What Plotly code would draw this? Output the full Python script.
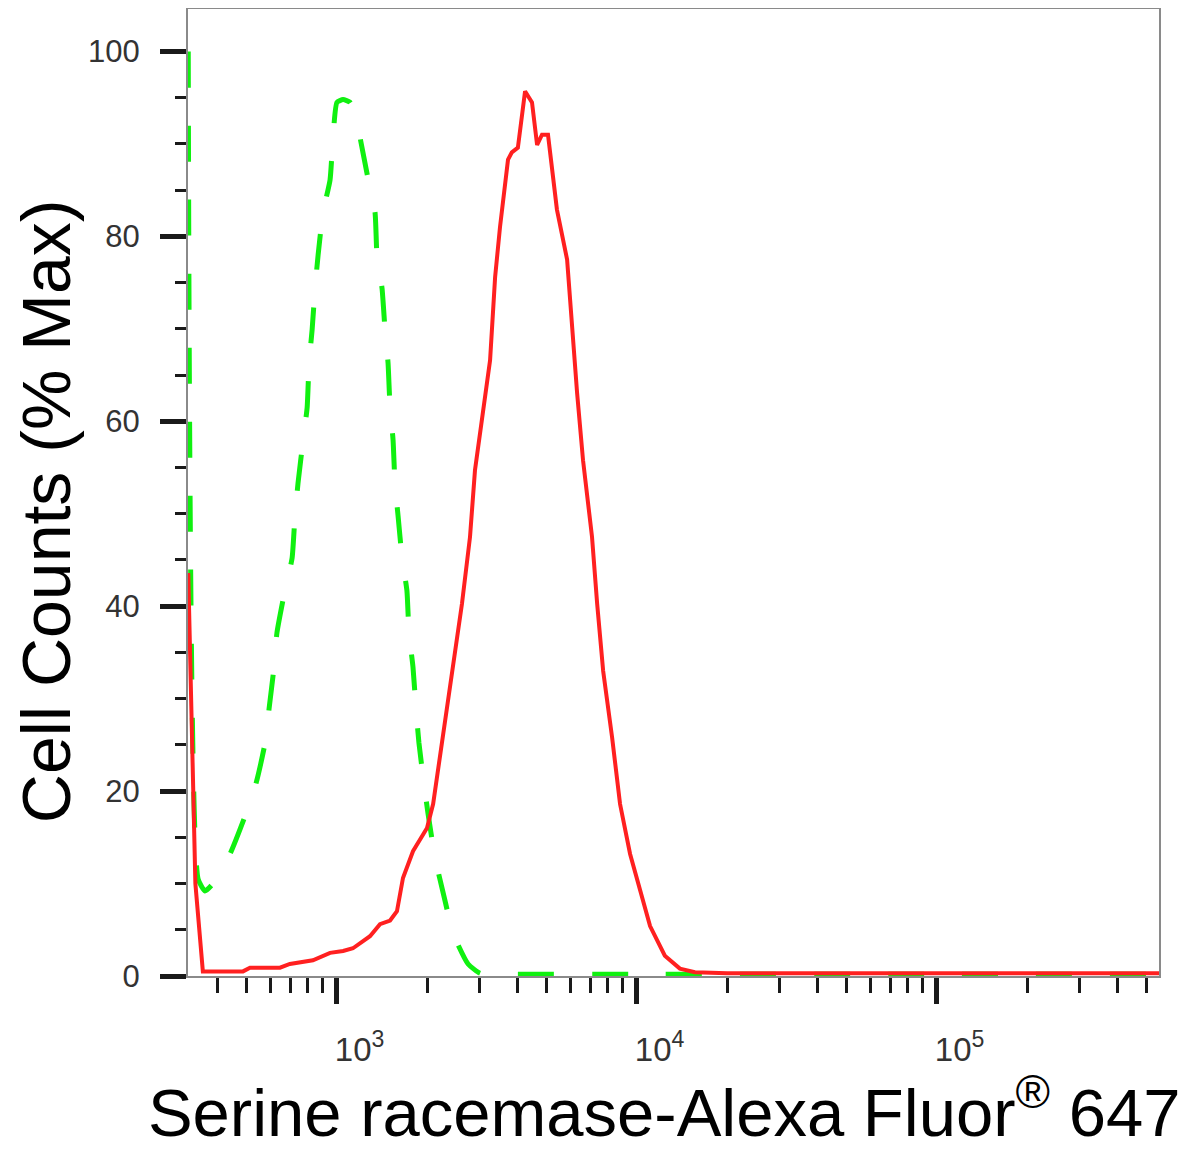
import plotly.graph_objects as go

# ---- data (intensity, % of max) ----
red_x = [320, 338, 358, 487, 514, 647, 698, 833, 950, 1050, 1133, 1291, 1394, 1506, 1588,
         1663, 1796, 2000, 2096, 2260, 2421, 2616, 2782, 2890, 3245, 3373, 3502, 3724, 3835,
         4017, 4245, 4477, 4656, 4834, 5062, 5260, 5421, 5861, 6083, 6327, 6623, 7096, 7380,
         7730, 8280, 8800, 9505, 10250, 11080, 12410, 13930, 15630, 20000, 50000, 100000,
         200000, 560000]
red_y = [43.6, 10.0, 0.5, 0.5, 0.9, 0.9, 1.3, 1.7, 2.5, 2.7, 3.0, 4.3, 5.6, 6.0, 7.0,
         10.6, 13.5, 16.0, 18.6, 25.8, 33.0, 40.3, 47.5, 54.7, 66.6, 75.6, 81.0, 88.3, 89.1,
         89.6, 95.7, 94.5, 89.9, 91.0, 91.0, 86.5, 82.9, 77.5, 70.2, 63.1, 55.8, 47.5, 40.3,
         33.0, 25.8, 18.6, 13.2, 9.5, 5.4, 2.2, 0.8, 0.4, 0.3, 0.3, 0.3, 0.3, 0.3]

green_x = [320, 345, 364, 387, 441, 499, 538, 577, 595, 618, 632, 672, 710, 726, 743, 773,
           797, 809, 828, 847, 867, 900, 950, 972, 1002, 1050, 1108, 1151, 1196, 1271, 1342,
           1362, 1416, 1449, 1483, 1506, 1541, 1564, 1601, 1652, 1714, 1742, 1796, 1838, 1880,
           1954, 2015, 2127, 2298, 2443, 2741, 3006, 3500, 10000, 100000, 560000]
green_y = [100.0, 10.5, 9.2, 10.0, 13.2, 17.6, 20.8, 25.2, 28.9, 33.4, 37.1, 41.7, 45.2, 49.8,
           53.3, 58.0, 61.5, 66.3, 69.9, 74.4, 78.0, 82.6, 86.1, 90.7, 94.5, 94.8, 94.5, 93.2,
           90.7, 86.3, 82.6, 78.0, 74.4, 69.9, 66.3, 61.5, 58.0, 53.3, 49.8, 45.2, 41.7, 37.1,
           33.4, 28.9, 25.2, 20.8, 17.6, 12.8, 8.1, 4.6, 1.3, 0.3, 0.2, 0.2, 0.2, 0.2]

y_major = [0, 20, 40, 60, 80, 100]
y_minor = [5, 10, 15, 25, 30, 35, 45, 50, 55, 65, 70, 75, 85, 90, 95]
x_major = [1e3, 1e4, 1e5]
x_exponents = ["3", "4", "5"]
x_minor = [400, 500, 600, 700, 800, 900,
           2e3, 3e3, 4e3, 5e3, 6e3, 7e3, 8e3, 9e3,
           2e4, 3e4, 4e4, 5e4, 6e4, 7e4, 8e4, 9e4,
           2e5, 3e5, 4e5, 5e5]

FONT = "Liberation Sans, Arial, sans-serif"
PAD = "&nbsp;" * 5
x_major_text = [PAD + "10<sup>" + e + "</sup>" for e in x_exponents]

fig = go.Figure()
fig.add_trace(go.Scatter(x=green_x, y=green_y, mode="lines",
                         line=dict(color="#10f010", width=5, dash="36px,38px", shape="spline",
                                   smoothing=0.5),
                         showlegend=False))
fig.add_trace(go.Scatter(x=red_x, y=red_y, mode="lines",
                         line=dict(color="#ff2020", width=4),
                         showlegend=False))

fig.update_layout(
    width=1190, height=1142,
    margin=dict(l=180, r=39, t=1, b=174),
    paper_bgcolor="white", plot_bgcolor="white",
    font=dict(family=FONT, color="#2a2a2a"),
)

fig.update_xaxes(
    type="log", range=[2.5043, 5.741],
    showgrid=False, zeroline=False,
    showline=True, linecolor="#8a8a8a", linewidth=2, mirror=True,
    tickmode="array", tickvals=x_major, ticktext=x_major_text,
    ticks="outside", ticklen=26, tickwidth=5, tickcolor="#1a1a1a",
    tickfont=dict(size=33, color="#333333", family=FONT),
    ticklabelstandoff=17,
    minor=dict(tickmode="array", tickvals=x_minor, ticks="outside",
               ticklen=15, tickwidth=3, tickcolor="#1a1a1a", showgrid=False),
    title=dict(text="Serine racemase-Alexa Fluor<sup>®</sup> 647&nbsp;",
               font=dict(size=67, color="black", family=FONT), standoff=34),
    automargin=False,
)
fig.update_yaxes(
    range=[0, 104.6],
    showgrid=False, zeroline=False,
    showline=True, linecolor="#8a8a8a", linewidth=2, mirror=True,
    tickmode="array", tickvals=y_major, ticktext=[str(v) for v in y_major],
    ticks="outside", ticklen=26, tickwidth=5, tickcolor="#1a1a1a",
    tickfont=dict(size=31, color="#333333", family=FONT),
    ticklabelstandoff=14,
    minor=dict(tickmode="array", tickvals=y_minor, ticks="outside",
               ticklen=11, tickwidth=3, tickcolor="#1a1a1a", showgrid=False),
    title=dict(text="Cell Counts (% Max)&nbsp;&nbsp;",
               font=dict(size=68, color="black", family=FONT), standoff=13),
    automargin=False,
)

fig.write_html("out.html")
